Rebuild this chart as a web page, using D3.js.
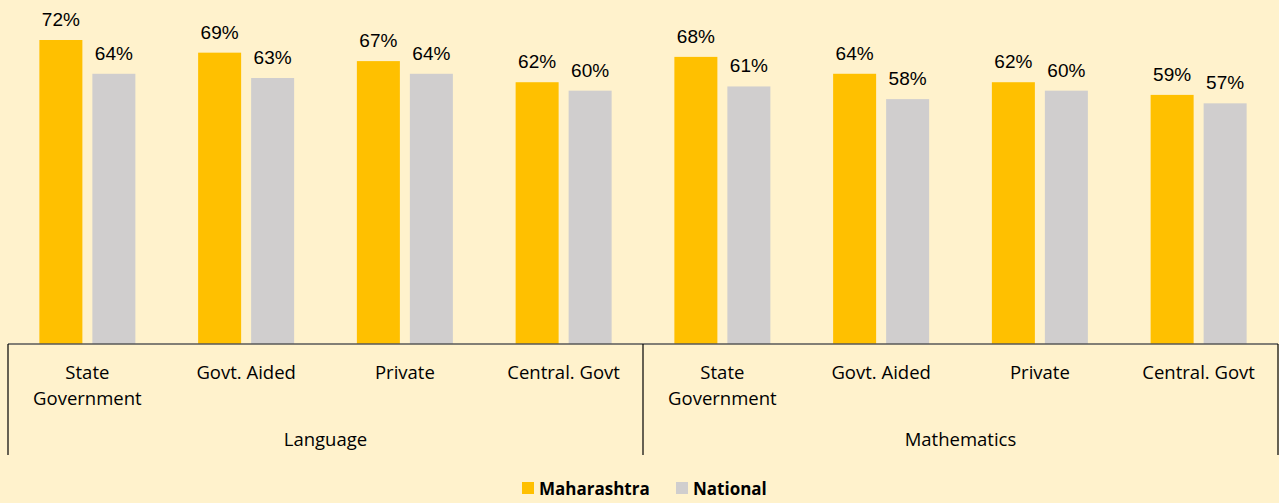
<!DOCTYPE html>
<html>
<head>
<meta charset="utf-8">
<script src="https://cdn.jsdelivr.net/npm/d3@7"></script>
<style>
  html, body { margin: 0; padding: 0; background: #FFF2CC; }
  svg { display: block; }
</style>
</head>
<body>
<div id="chart"></div>
<script>
// 資料
const subjects = ["Language", "Mathematics"];
const schoolTypes = ["State Government", "Govt. Aided", "Private", "Central. Govt"];
const seriesNames = ["Maharashtra", "National"];
const maharashtra = [72, 69, 67, 62, 68, 64, 62, 59];
const national = [64, 63, 64, 60, 61, 58, 60, 57];

(function () {
  const W = 1279, H = 503;
  const colors = { Maharashtra: "#FFC000", National: "#D0CECE" };
  const svg = d3.select("#chart").append("svg").attr("width", W).attr("height", H);
  svg.append("rect").attr("width", W).attr("height", H).attr("fill", "#FFF2CC");

  const left = 8, right = 1278, base = 344;
  const rows = [];
  subjects.forEach((s, si) => schoolTypes.forEach((t, ti) => {
    const i = si * schoolTypes.length + ti;
    rows.push({ key: s + "|" + t, subject: s, type: t, Maharashtra: maharashtra[i], National: national[i] });
  }));

  const x0 = d3.scaleBand().domain(rows.map(d => d.key)).range([left, right]);
  const bw = x0.bandwidth();
  const x1 = d3.scaleBand().domain(seriesNames).range([bw / 2 - 48, bw / 2 + 48]).paddingInner(10 / 53);
  const y = d3.scaleLinear().domain([0, 72]).range([base, 40]);

  const g = svg.append("g");
  const grp = g.selectAll("g.cat").data(rows).join("g")
    .attr("transform", d => `translate(${x0(d.key)},0)`);

  grp.selectAll("rect").data(d => seriesNames.map(n => ({ n, v: d[n] }))).join("rect")
    .attr("x", d => x1(d.n)).attr("width", x1.bandwidth())
    .attr("y", d => y(d.v)).attr("height", d => base - y(d.v))
    .attr("fill", d => colors[d.n]);

  grp.selectAll("text.val").data(d => seriesNames.map(n => ({ n, v: d[n] }))).join("text")
    .attr("class", "val")
    .attr("x", d => x1(d.n) + x1.bandwidth() / 2).attr("y", d => y(d.v) - 14)
    .attr("text-anchor", "middle")
    .attr("font-family", "'Liberation Sans', Arial, sans-serif").attr("font-size", 19)
    .attr("fill", "#000")
    .text(d => d.v + "%");

  // 軸線
  svg.append("line").attr("x1", left).attr("x2", right).attr("y1", base).attr("y2", base)
    .attr("stroke", "#595959").attr("stroke-width", 1.5);
  const mid = x0(subjects[1] + "|" + schoolTypes[0]);
  [left, mid, right].forEach(xv => {
    svg.append("line").attr("x1", xv).attr("x2", xv).attr("y1", base).attr("y2", 455)
      .attr("stroke", "#000").attr("stroke-width", 1.2);
  });

  const font = "'Open Sans', 'Noto Sans', sans-serif";
  // 類別標籤
  rows.forEach(d => {
    const cx = x0(d.key) + bw / 2;
    const words = d.type === "State Government" ? ["State", "Government"] : [d.type];
    words.forEach((w, i) => {
      svg.append("text").attr("x", cx).attr("y", 379 + i * 26)
        .attr("text-anchor", "middle").attr("font-family", font).attr("font-size", 18.5)
        .attr("fill", "#000").text(w);
    });
  });
  subjects.forEach((s, si) => {
    const a = si === 0 ? left : mid, b = si === 0 ? mid : right;
    svg.append("text").attr("x", (a + b) / 2).attr("y", 446)
      .attr("text-anchor", "middle").attr("font-family", font).attr("font-size", 18.5)
      .attr("fill", "#000").text(s);
  });

  // 圖例
  const lg = svg.append("g").attr("transform", "translate(522,482)");
  const lx = [0, 154];
  seriesNames.forEach((n, i) => {
    lg.append("rect").attr("x", lx[i]).attr("y", 0).attr("width", 12).attr("height", 12).attr("fill", colors[n]);
    lg.append("text").attr("x", lx[i] + 17).attr("y", 13)
      .attr("font-family", "'Open Sans', 'Noto Sans', sans-serif").attr("font-weight", "bold")
      .attr("font-size", 17).attr("fill", "#000").text(n);
  });
})();
</script>
</body>
</html>
